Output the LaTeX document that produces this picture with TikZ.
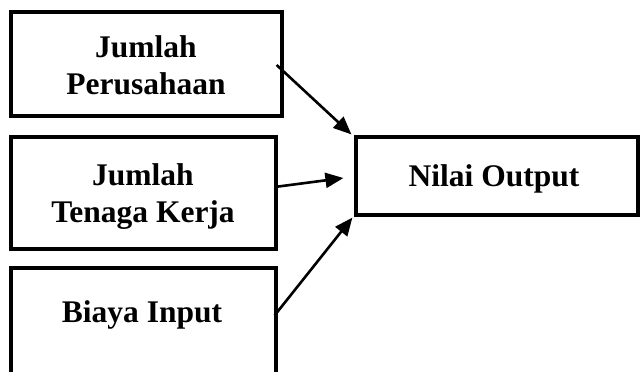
\documentclass[tikz,border=0pt]{standalone}
\usepackage{fontspec}
\setmainfont{Liberation Serif}
\usetikzlibrary{arrows.meta,calc}
\tikzset{
  boxnode/.style={draw=black, line width=3.2pt, rectangle, inner sep=0pt, fill=none},
  lbl/.style={font=\fontsize{31.5}{37}\selectfont\bfseries, align=center, inner sep=0pt},
  conn/.style={line width=2.6pt, -{Triangle[length=18pt,width=15pt]}}
}
\begin{document}
\begin{tikzpicture}[x=1pt,y=-1pt]
\useasboundingbox (0,0) rectangle (640,372);
\clip (0,0) rectangle (640,372);
% boxes
\node[boxnode, minimum width=271pt, minimum height=104pt] (b1) at (146.5,64) {};
\node[boxnode, minimum width=265pt, minimum height=112pt] (b2) at (143.5,193) {};
\node[boxnode, minimum width=265pt, minimum height=122pt] (b3) at (143.5,329) {};
\node[boxnode, minimum width=282pt, minimum height=78pt] (out) at (497,176) {};
% labels
\node[lbl] (t1) at (146,65) {Jumlah\\Perusahaan};
\node[lbl] (t2) at (143,196.5) {Jumlah\\Tenaga Kerja};
\node[lbl, anchor=base] (t3) at (142,322) {Biaya Input};
\node[lbl, anchor=base] (t4) at (494,186) {Nilai Output};
% connectors
\draw[conn] ($(b1.east)+(-7,1)$) -- ($(out.north west)+(-3,-1)$);
\draw[conn] ($(b2.east)+(-3,-6)$) -- ($(out.west)+(-11,2)$);
\draw[conn] ($(b3.north east)+(-3,49)$) -- ($(out.south west)+(-2,1)$);
\end{tikzpicture}
\end{document}
